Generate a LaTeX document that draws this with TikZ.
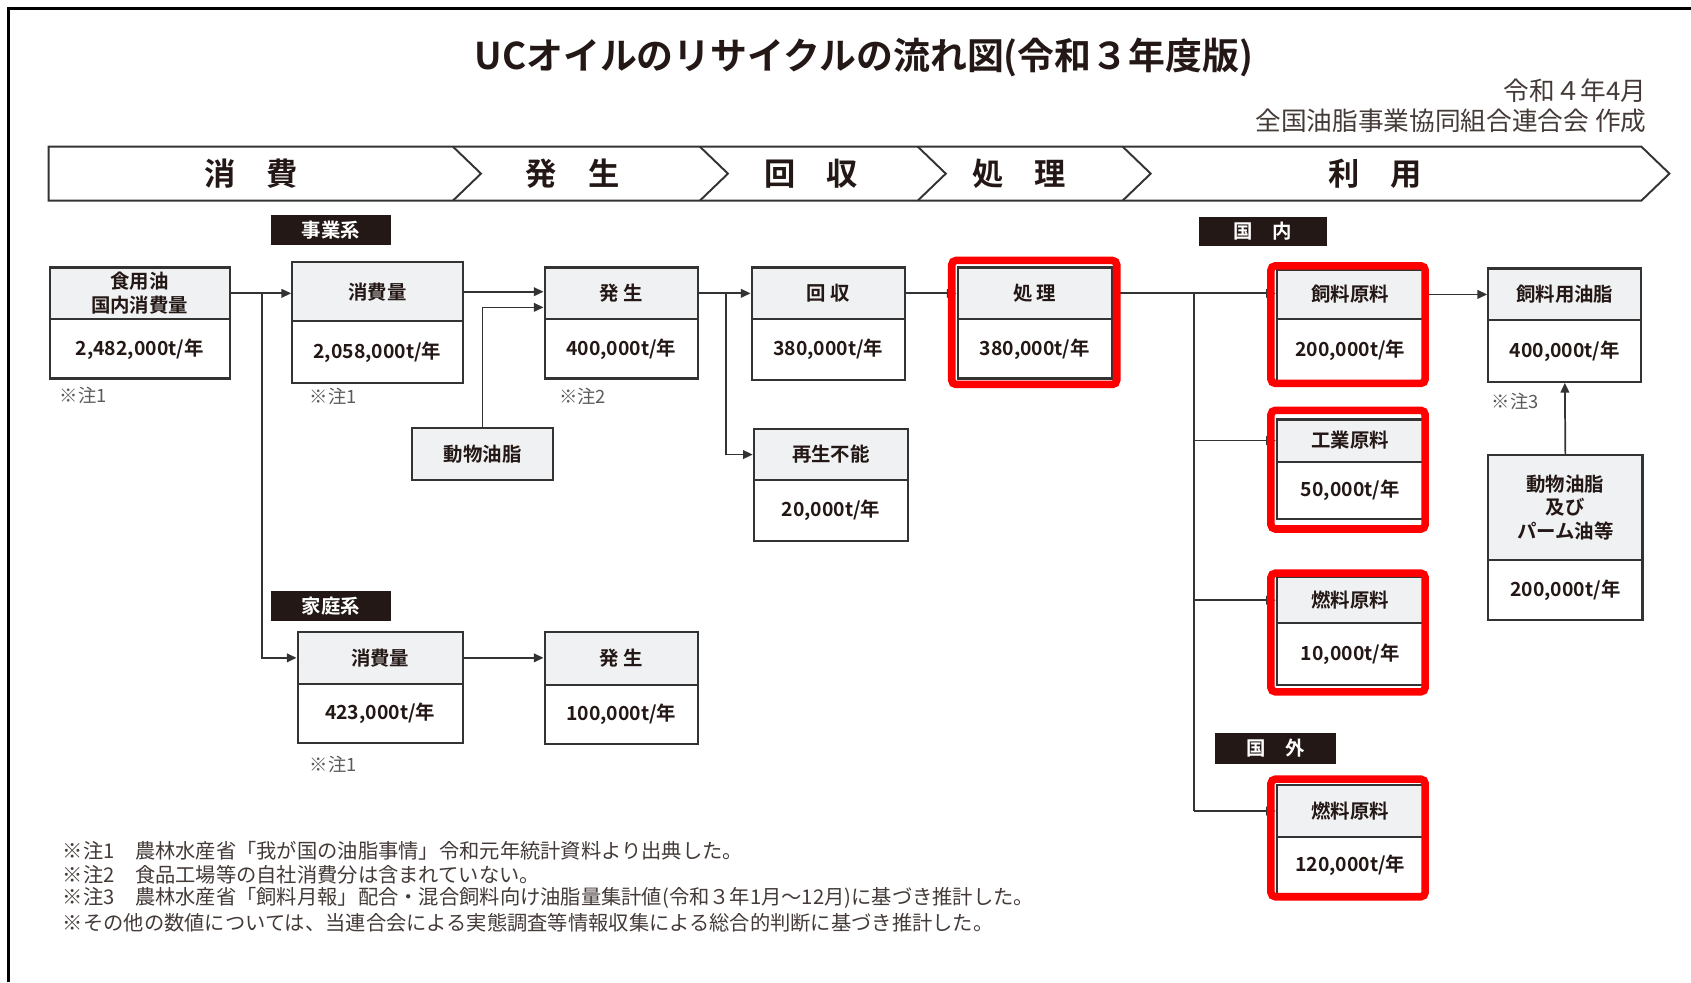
\documentclass[tikz,border=0pt]{standalone}
\usepackage{fontspec}
\setmainfont{Noto Sans CJK JP}[BoldFont={Noto Sans CJK JP Bold}]
\usetikzlibrary{arrows.meta,calc}
\definecolor{hdrgray}{HTML}{F0F1F2}
\definecolor{ink}{HTML}{231815}
\definecolor{bord}{HTML}{333333}
\definecolor{notegray}{HTML}{5A5A5A}
\definecolor{fred}{HTML}{FF0000}
\newcommand{\bxfont}{\fontsize{9}{11}\selectfont\bfseries}
\newcommand{\blkfont}{\fontsize{9}{11}\selectfont\bfseries}
\newcommand{\ntfont}{\fontsize{8.5}{10}\selectfont}
\newcommand{\fnfont}{\fontsize{9.4}{11}\selectfont}
\newcommand{\bnfont}{\fontsize{14.5}{16}\selectfont\bfseries}
\tikzset{
  hdrbox/.style={draw=bord, line width=1pt, fill=hdrgray, inner sep=0pt, align=center, font=\bxfont, text=ink},
  valbox/.style={draw=bord, line width=1pt, fill=white, inner sep=0pt, align=center, font=\bxfont, text=ink},
  blk/.style={fill=ink, text=white, inner sep=0pt, font=\blkfont},
  conn/.style={draw=bord, line width=0.8pt, -{Triangle[length=4.5pt,width=4pt]}},
  plainln/.style={draw=bord, line width=0.8pt},
  redfr/.style={draw=fred, line width=3.5pt, rounded corners=2pt},
  note/.style={font=\ntfont, text=notegray, inner sep=0pt, anchor=west},
  fnote/.style={font=\fnfont, text=ink!85, inner sep=0pt, anchor=west},
  bntext/.style={font=\bnfont, text=ink, inner sep=0pt},
}
\newcommand{\twobox}[8]{%
  \node[hdrbox, anchor=north west, minimum width={(#4-#2)*0.5pt}, minimum height={(#5-#3)*0.5pt}] (#1h) at (#2,#3) {#7};
  \node[valbox, anchor=north west, minimum width={(#4-#2)*0.5pt}, minimum height={(#6-#5)*0.5pt}] (#1v) at (#2,#5) {#8};
}
\begin{document}
\begin{tikzpicture}[x=0.5pt,y=-0.5pt]
\useasboundingbox (0,0) rectangle (1568,911);
\fill[white] (0,0) rectangle (1568,911);
% frame
\draw[line width=1.3pt, black] (8,911) -- (8,8) -- (1568,8);
% title
\node[font=\fontsize{17.1}{20}\selectfont\bfseries, text=ink, inner sep=0pt] (title) at (801,53) {UCオイルのリサイクルの流れ図(令和３年度版)};
\node[font=\fontsize{11.9}{13}\selectfont, text=ink!85, inner sep=0pt, anchor=east] (date) at (1527,84) {令和４年4月};
\node[font=\fontsize{11.9}{13}\selectfont, text=ink!85, inner sep=0pt, anchor=east] (auth) at (1527,112) {全国油脂事業協同組合連合会 作成};
% banner
\draw[bord, line width=0.9pt] (45,136) -- (1522,136) -- (1548,161) -- (1522,186) -- (45,186) -- cycle;
\foreach \cx in {420,649,851,1041}{
  \draw[bord, line width=0.9pt] (\cx,136) -- (\cx+26,161) -- (\cx,186);
}
\node[bntext] (bn1) at (233,161) {消　費};
\node[bntext] (bn2) at (531,161) {発　生};
\node[bntext] (bn3) at (752,161) {回　収};
\node[bntext] (bn4) at (945,161) {処　理};
\node[bntext] (bn5) at (1275,161) {利　用};
% black labels
\node[blk, minimum width=56pt, minimum height=14pt] (lb1) at (307,213) {事業系};
\node[blk, minimum width=59pt, minimum height=13.5pt] (lb2) at (1171,214.5) {国　内};
\node[blk, minimum width=56pt, minimum height=14pt] (lb3) at (307,562) {家庭系};
\node[blk, minimum width=56pt, minimum height=14pt] (lb4) at (1183,694) {国　外};
% boxes
\twobox{b1}{45}{247}{212}{295}{350}{食用油\\国内消費量}{2,482,000t/年}
\twobox{b2}{270}{242}{428}{297}{354}{消費量}{2,058,000t/年}
\twobox{b3}{504}{247}{646}{295}{350}{発 生}{400,000t/年}
\twobox{b4}{696}{247}{838}{295}{351}{回 収}{380,000t/年}
\twobox{b5}{887}{247}{1030}{295}{350}{処 理}{380,000t/年}
\twobox{b6}{698}{397}{841}{444}{501}{再生不能}{20,000t/年}
\node[hdrbox, anchor=north west, minimum width=65.5pt, minimum height=24pt] (b7) at (381,396) {動物油脂};
\twobox{b8}{275}{585}{428}{633}{688}{消費量}{423,000t/年}
\twobox{b9}{504}{585}{646}{634}{689}{発 生}{100,000t/年}
\twobox{b10}{1183}{249}{1319}{295}{352}{飼料原料}{200,000t/年}
\twobox{b11}{1183}{388}{1319}{427}{480}{工業原料}{50,000t/年}
\twobox{b12}{1183}{534}{1319}{577}{634}{燃料原料}{10,000t/年}
\twobox{b13}{1183}{727}{1319}{775}{828}{燃料原料}{120,000t/年}
\twobox{b14}{1379}{248}{1521}{296}{353}{飼料用油脂}{400,000t/年}
\twobox{b15}{1379}{421}{1522}{518}{574}{動物油脂\\及び\\パーム油等}{200,000t/年}
% notes
\node[note] (n1) at (55,367) {※注1};
\node[note] (n2) at (287,368) {※注1};
\node[note] (n3) at (518,368) {※注2};
\node[note] (n4) at (1383,372) {※注3};
\node[note] (n5) at (287,709) {※注1};
% connectors
\coordinate (j1x) at (243,0);
\coordinate (j2x) at (673,0);
\coordinate (j3x) at (1107,0);
\draw[conn] (b1h.east) -- (b1h.east -| b2h.west);
\draw[conn] (b1h.east -| j1x) |- (b8h.west);
\draw[conn] (b2h.east) -- (b2h.east -| b3h.west);
\draw[conn] (b7.north) |- ([yshift=-6.5pt]b3h.west);
\draw[conn] (b3h.east) -- (b3h.east -| b4h.west);
\draw[conn] (b3h.east -| j2x) |- (b6h.west);
\draw[conn] (b4h.east) -- (b4h.east -| b5h.west);
\draw[conn] (b5h.east) -- (b5h.east -| b10h.west);
\draw[plainln] (b5h.east -| j3x) -- (j3x |- b13h.west);
\draw[conn] (j3x |- b11h.west) -- (b11h.west);
\draw[conn] (j3x |- b12h.west) -- (b12h.west);
\draw[conn] (j3x |- b13h.west) -- (b13h.west);
\draw[conn] (b10h.east) -- (b10h.east -| b14h.west);
\draw[conn] (b15h.north) -- (b14v.south);
\draw[conn] (b8h.east) -- (b8h.east -| b9h.west);
% red frames
\draw[redfr] (882.5,241.5) rectangle (1035.5,356.5);
\draw[redfr] (1178.5,246.5) rectangle (1321.5,355.5);
\draw[redfr] (1178.5,380.5) rectangle (1321.5,490.5);
\draw[redfr] (1178.5,531.5) rectangle (1321.5,641.5);
\draw[redfr] (1178.5,722.5) rectangle (1321.5,831.5);
% footnotes
\node[fnote] (f1) at (58,789) {※注1　農林水産省「我が国の油脂事情」令和元年統計資料より出典した。};
\node[fnote] (f2) at (58,811) {※注2　食品工場等の自社消費分は含まれていない。};
\node[fnote] (f3) at (58,833) {※注3　農林水産省「飼料月報」配合・混合飼料向け油脂量集計値(令和３年1月～12月)に基づき推計した。};
\node[fnote] (f4) at (58,856) {※その他の数値については、当連合会による実態調査等情報収集による総合的判断に基づき推計した。};
\end{tikzpicture}
\end{document}
